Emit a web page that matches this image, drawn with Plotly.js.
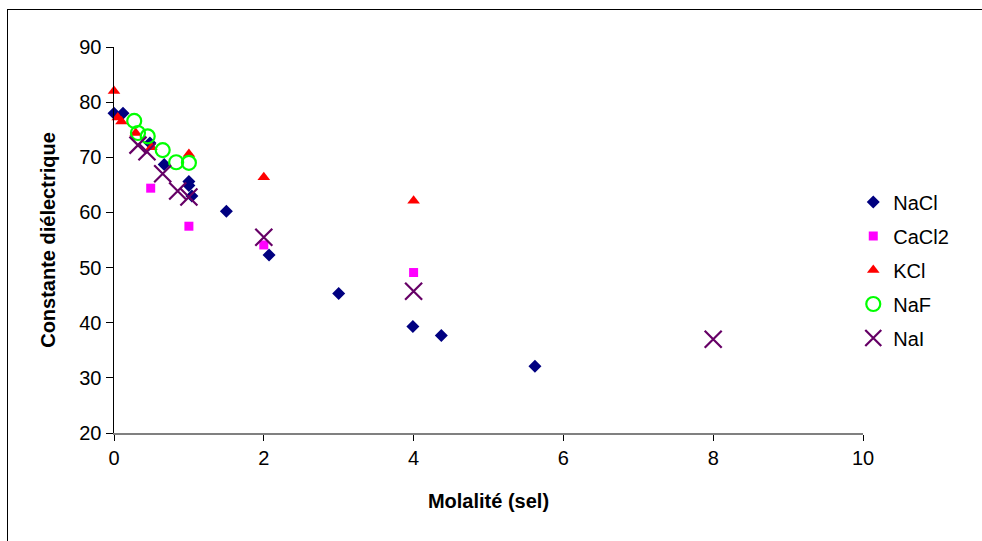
<!DOCTYPE html>
<html>
<head>
<meta charset="utf-8">
<script src="https://cdn.plot.ly/plotly-3.0.1.min.js"></script>
<style>
  html, body { margin: 0; padding: 0; background: #fff; }
  #wrap { position: relative; width: 982px; height: 541px; overflow: hidden; }
  #frame { position: absolute; left: 7px; top: 9px; width: 1200px; height: 800px;
           border-left: 1.5px solid #000; border-top: 1.5px solid #000; pointer-events: none; }
  #chart { position: absolute; left: 0; top: 0; width: 982px; height: 541px; }
</style>
</head>
<body>
<div id="wrap">
  <div id="chart"></div>
  <div id="frame"></div>
</div>
<script>
// Data
const naclX = [0, 0.12, 0.48, 0.67, 1.0, 1.0, 1.04, 1.5, 2.07, 3.0, 3.99, 4.37, 5.62];
const naclY = [78.0, 78.0, 72.6, 68.7, 65.6, 64.9, 63.0, 60.2, 52.3, 45.3, 39.3, 37.7, 32.1];

const cacl2X = [0.49, 1.0, 2.0, 4.0];
const cacl2Y = [64.4, 57.5, 54.1, 49.1];

const kclX = [0, 0.05, 0.1, 0.29, 0.5, 1.0, 2.0, 4.0];
const kclY = [82.0, 77.2, 76.5, 74.4, 71.8, 70.6, 66.4, 62.1];

const nafX = [0.27, 0.32, 0.45, 0.65, 0.83, 1.0];
const nafY = [76.6, 74.4, 73.8, 71.3, 69.1, 69.0];

const naiX = [0.32, 0.44, 0.65, 0.85, 1.0, 2.0, 4.0, 8.0];
const naiY = [72.2, 71.0, 67.0, 63.9, 62.8, 55.5, 45.7, 37.0];

const names = ['NaCl', 'CaCl2', 'KCl', 'NaF', 'NaI'];

const traces = [
  { x: naclX, y: naclY, name: names[0], type: 'scatter', mode: 'markers', legendgroup: 'a', cliponaxis: false,
    marker: { symbol: 'diamond', size: 10, color: '#000080' } },
  { x: cacl2X, y: cacl2Y, name: names[1], type: 'scatter', mode: 'markers', legendgroup: 'b', cliponaxis: false,
    marker: { symbol: 'square', size: 9, color: '#FF00FF' } },
  { x: kclX, y: kclY, name: names[2], type: 'scatter', mode: 'markers', legendgroup: 'c', cliponaxis: false,
    marker: { symbol: 'triangle-up', size: 11, color: '#FF0000' } },
  { x: nafX, y: nafY, name: names[3], type: 'scatter', mode: 'markers', legendgroup: 'd', cliponaxis: false,
    marker: { symbol: 'circle-open', size: 14, color: '#00FF00', line: { width: 2.2, color: '#00FF00' } } },
  { x: naiX, y: naiY, name: names[4], type: 'scatter', mode: 'markers', legendgroup: 'e', cliponaxis: false,
    marker: { symbol: 'x-thin-open', size: 17, color: '#660066', line: { width: 2.2, color: '#660066' } } }
];

const font = 'Arial, "Liberation Sans", sans-serif';

const layout = {
  width: 982, height: 541,
  margin: { l: 114, r: 119, t: 47, b: 108 },
  paper_bgcolor: '#ffffff', plot_bgcolor: '#ffffff',
  font: { family: font, size: 20, color: '#000' },
  showlegend: true,
  legend: {
    x: 0.987, xanchor: 'left', y: 0.649, yanchor: 'top',
    font: { family: font, size: 20, color: '#000' },
    tracegroupgap: 5, bgcolor: 'rgba(0,0,0,0)', itemwidth: 30
  },
  xaxis: {
    range: [0, 10], dtick: 2, tick0: 0,
    showgrid: false, zeroline: false,
    showline: true, linecolor: '#808080', linewidth: 1.5,
    ticks: 'outside', ticklen: 6, tickcolor: '#000', tickwidth: 1,
    tickfont: { family: font, size: 20, color: '#000' },
    title: { text: '<b>Molalité (sel)</b>', font: { family: font, size: 20, color: '#000' }, standoff: 26 }
  },
  yaxis: {
    range: [20, 90], dtick: 10, tick0: 20,
    showgrid: false, zeroline: false,
    showline: true, linecolor: '#000', linewidth: 1.5,
    ticks: 'outside', ticklen: 7, tickcolor: '#000', tickwidth: 1,
    tickfont: { family: font, size: 20, color: '#000' },
    title: { text: '<b>Constante diélectrique</b>', font: { family: font, size: 20, color: '#000' }, standoff: 18 }
  }
};

Plotly.newPlot('chart', traces, layout, { displayModeBar: false, staticPlot: true });
</script>
</body>
</html>
